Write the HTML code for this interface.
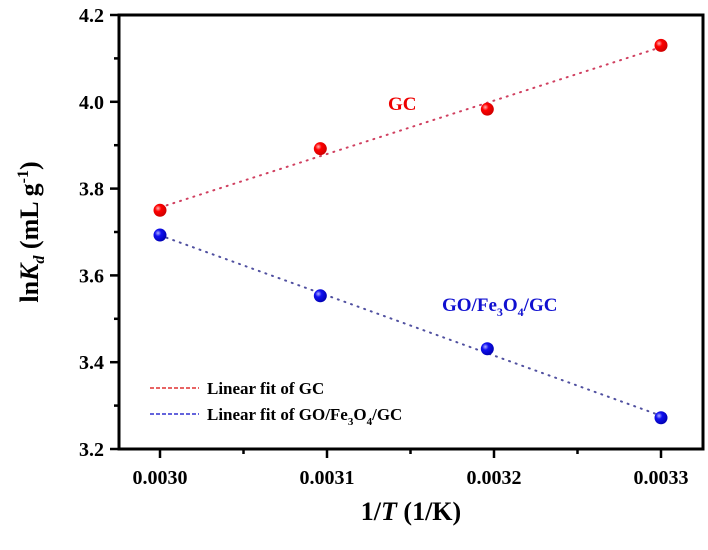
<!DOCTYPE html>
<html><head><meta charset="utf-8"><style>
body{margin:0;background:#fff}
svg text{font-family:"Liberation Serif",serif;font-weight:bold}
</style></head><body>
<svg id="chart" width="708" height="545" viewBox="0 0 708 545" xmlns="http://www.w3.org/2000/svg">
<defs>
<radialGradient id="gr" cx="0.35" cy="0.35" r="0.7"><stop offset="0" stop-color="#ffb0b0"/><stop offset="0.35" stop-color="#f00"/><stop offset="1" stop-color="#c00"/></radialGradient>
<radialGradient id="gb" cx="0.35" cy="0.35" r="0.7"><stop offset="0" stop-color="#b0b0ff"/><stop offset="0.35" stop-color="#1010f0"/><stop offset="1" stop-color="#0000b0"/></radialGradient>
</defs>
<g id="marks"></g>
<rect x="119" y="15" width="584" height="434" fill="none" stroke="#000" stroke-width="3"/>
<g id="axes"></g>
<text x="388" y="110" fill="#e00" font-size="19">GC</text>
<text x="442" y="311" fill="#1010d0" font-size="19">GO/Fe<tspan font-size="12" dy="5">3</tspan><tspan dy="-5">O</tspan><tspan font-size="12" dy="5">4</tspan><tspan dy="-5">/GC</tspan></text>
<g>
<line x1="150" y1="388" x2="199" y2="388" stroke="#e03030" stroke-width="1.5" stroke-dasharray="4,2"/>
<text x="207" y="394" font-size="17">Linear fit of GC</text>
<line x1="150" y1="414" x2="199" y2="414" stroke="#3030d0" stroke-width="1.5" stroke-dasharray="4,2"/>
<text x="207" y="420" font-size="17">Linear fit of GO/Fe<tspan font-size="11" dy="5">3</tspan><tspan dy="-5">O</tspan><tspan font-size="11" dy="5">4</tspan><tspan dy="-5">/GC</tspan></text>
</g>
<text transform="translate(38,232) rotate(-90)" text-anchor="middle" font-size="26">ln<tspan font-style="italic">K</tspan><tspan font-size="16" font-style="italic" dy="6">d</tspan><tspan dy="-6"> (mL g</tspan><tspan font-size="16" dy="-10">-1</tspan><tspan dy="10">)</tspan></text>
<text x="411" y="520" text-anchor="middle" font-size="26">1/<tspan font-style="italic">T</tspan> (1/K)</text>
</svg>
<script>
const xVals=[0.0030,0.003096,0.003196,0.0033];
const gcVals=[3.750,3.892,3.983,4.130];
const goVals=[3.693,3.553,3.431,3.272];
const xTicks=[0.0030,0.0031,0.0032,0.0033];
const xTickLabels=["0.0030","0.0031","0.0032","0.0033"];
const yTicks=[3.2,3.4,3.6,3.8,4.0,4.2];
const yTickLabels=["3.2","3.4","3.6","3.8","4.0","4.2"];
const NS="http://www.w3.org/2000/svg";
const X=v=>160+(v-0.0030)*1670000;
const Y=v=>449-(v-3.2)*434;
function mk(tag,attrs,parent){const e=document.createElementNS(NS,tag);for(const k in attrs)e.setAttribute(k,attrs[k]);parent.appendChild(e);return e;}
const marks=document.getElementById('marks'),axes=document.getElementById('axes');
function fit(xs,ys){const n=xs.length,mx=xs.reduce((a,b)=>a+b)/n,my=ys.reduce((a,b)=>a+b)/n;let sxy=0,sxx=0;xs.forEach((x,i)=>{sxy+=(x-mx)*(ys[i]-my);sxx+=(x-mx)**2});const b=sxy/sxx;return [b,my-b*mx];}
[[gcVals,'#d04060','url(#gr)','gc'],[goVals,'#5050a0','url(#gb)','go']].forEach(([ys,lc,fill,nm])=>{
 const [b,a]=fit(xVals,ys);const x0=xVals[0],x1=xVals[xVals.length-1];
 const l=mk('line',{x1:X(x0),y1:Y(a+b*x0),x2:X(x1),y2:Y(a+b*x1),stroke:lc,'stroke-width':2,'stroke-dasharray':'1,6','stroke-linecap':'round'},marks);
 
 
 xVals.forEach((x,i)=>{const c=mk('circle',{cx:X(x),cy:Y(ys[i]),r:6.5,fill:fill},marks);
  
  });
});
xTicks.forEach((t,i)=>{const x=X(t);mk('line',{x1:x,y1:449,x2:x,y2:458,stroke:'#000','stroke-width':2.5},axes);
 if(i<xTicks.length-1)mk('line',{x1:x+83.5,y1:449,x2:x+83.5,y2:454,stroke:'#000','stroke-width':2.5},axes);
 const tx=mk('text',{x:x,y:484,'text-anchor':'middle','font-size':20},axes);tx.textContent=xTickLabels[i];
 
 });
yTicks.forEach((t,i)=>{const y=Y(t);mk('line',{x1:110,y1:y,x2:119,y2:y,stroke:'#000','stroke-width':2.5},axes);
 if(i<yTicks.length-1)mk('line',{x1:114,y1:y-43.4,x2:119,y2:y-43.4,stroke:'#000','stroke-width':2.5},axes);
 const tx=mk('text',{x:104,y:y+7,'text-anchor':'end','font-size':20},axes);tx.textContent=yTickLabels[i];
 
 });
</script>
</body></html>
